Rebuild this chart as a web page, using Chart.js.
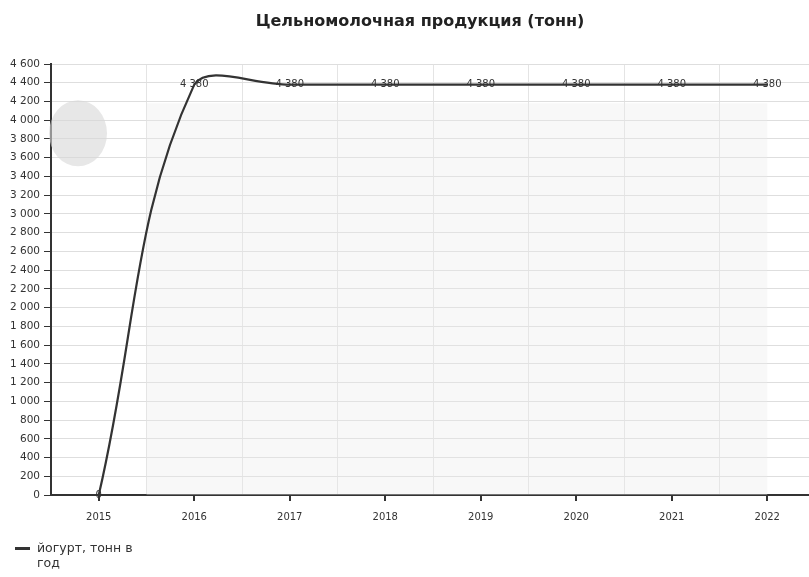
<!DOCTYPE html>
<html>
<head>
<meta charset="utf-8">
<script src="https://cdn.jsdelivr.net/npm/chart.js@4"></script>
<style>
  html, body { margin: 0; padding: 0; background: #fff; overflow: hidden; }
  #wrap { position: relative; width: 815px; height: 577px; }
  #title { position: absolute; left: 0; top: 11px; width: 840px; text-align: center; font: bold 16px "DejaVu Sans", sans-serif; color: #222; line-height: 19px; }
  #legend { position: absolute; left: 15px; top: 540px; font: 12.5px "DejaVu Sans", sans-serif; color: #333; line-height: 15px; }
  #legend .mark { position: absolute; left: 0; top: 7px; width: 15px; height: 3px; background: #333; }
  #legend .txt { margin-left: 22px; width: 115px; }
</style>
</head>
<body>
<div id="wrap">
  <canvas id="chart" width="815" height="577"></canvas>
  <div id="title"></div>
  <div id="legend"><div class="mark"></div><div class="txt"></div></div>
</div>
<script>
const years = ['2015', '2016', '2017', '2018', '2019', '2020', '2021', '2022'];
const yogurt = [0, 4380, 4380, 4380, 4380, 4380, 4380, 4380];
const seriesName = 'йогурт, тонн в год';
const chartTitle = 'Цельномолочная продукция (тонн)';

document.getElementById('title').textContent = chartTitle;
document.querySelector('#legend .txt').textContent = seriesName;

function fmt(v) {
  return String(v).replace(/\B(?=(\d{3})+(?!\d))/g, ' ');
}

// подложка (водяной знак) и подписи значений
const decor = {
  id: 'decor',
  beforeDatasetsDraw(chart) {
    const ctx = chart.ctx, x = chart.scales.x, y = chart.scales.y;
    ctx.save();
    ctx.fillStyle = 'rgba(235,235,235,0.35)';
    const x0 = x.getPixelForValue(0.5), x1 = x.getPixelForValue(7);
    const y0 = y.getPixelForValue(4180), y1 = y.getPixelForValue(0);
    ctx.fillRect(x0, y0, x1 - x0, y1 - y0);
    ctx.fillStyle = 'rgba(215,215,215,0.6)';
    ctx.beginPath();
    ctx.ellipse(chart.chartArea.left + 27, y.getPixelForValue(3860), 29, 33, 0, 0, Math.PI * 2);
    ctx.fill();
    ctx.restore();
  },
  afterDatasetsDraw(chart) {
    const ctx = chart.ctx;
    const meta = chart.getDatasetMeta(0);
    ctx.save();
    ctx.font = '10px "DejaVu Sans", sans-serif';
    ctx.fillStyle = '#333';
    ctx.textAlign = 'center';
    ctx.textBaseline = 'middle';
    meta.data.forEach((pt, i) => {
      ctx.fillText(fmt(yogurt[i]), pt.x, pt.y);
    });
    // метки делений оси X по центру категорий
    const x = chart.scales.x;
    ctx.strokeStyle = '#333';
    ctx.lineWidth = 2;
    years.forEach((_, i) => {
      const px = Math.round(x.getPixelForValue(i));
      ctx.beginPath();
      ctx.moveTo(px, x.top);
      ctx.lineTo(px, x.top + 6);
      ctx.stroke();
    });
    ctx.restore();
  }
};

new Chart(document.getElementById('chart'), {
  type: 'line',
  data: {
    labels: years,
    datasets: [{
      label: seriesName,
      data: yogurt,
      borderColor: '#333',
      borderWidth: 2.2,
      tension: 0.4,
      pointRadius: 0,
      fill: false
    }]
  },
  plugins: [decor],
  options: {
    responsive: false,
    animation: false,
    layout: { padding: { top: 64, right: 0, bottom: 52, left: 0 } },
    plugins: {
      legend: { display: false },
      tooltip: { enabled: false },
      title: { display: false }
    },
    scales: {
      x: {
        offset: true,
        afterFit: s => { s.height = 30; },
        grid: { offset: true, color: '#e4e4e4', drawTicks: false },
        border: { color: '#333', width: 2 },
        ticks: { color: '#333', padding: 16, font: { family: '"DejaVu Sans", sans-serif', size: 10 } }
      },
      y: {
        min: 0,
        max: 4600,
        afterFit: s => { s.width = 51; },
        grid: { color: '#dedede', tickLength: 7, tickColor: '#333' },
        border: { color: '#333', width: 2 },
        ticks: {
          stepSize: 200,
          color: '#333',
          padding: 4,
          font: { family: '"DejaVu Sans", sans-serif', size: 10.5 },
          callback: v => fmt(v)
        }
      }
    }
  }
});
</script>
</body>
</html>
